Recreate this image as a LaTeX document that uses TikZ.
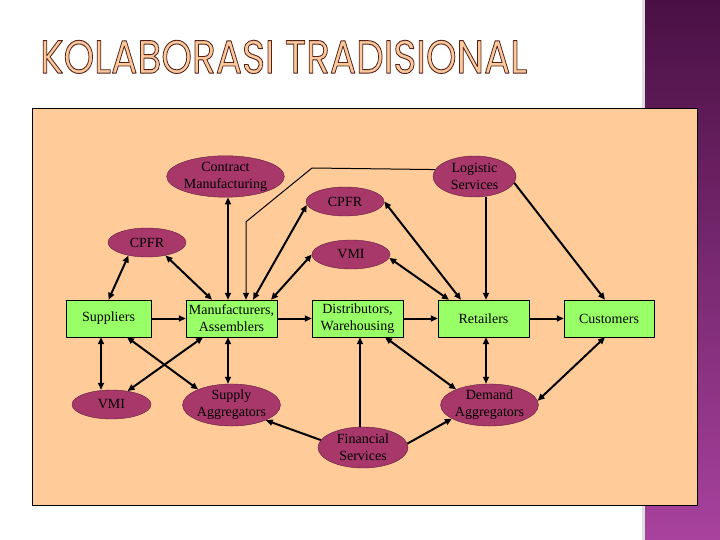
\documentclass[tikz,border=0pt]{standalone}
\usepackage{fontspec}
\setmainfont{Liberation Serif}
\newfontfamily\titlefont{Poppins}
\usetikzlibrary{arrows.meta,shapes.geometric}

\definecolor{panelpeach}{RGB}{255,204,153}
\definecolor{ovalred}{RGB}{168,56,106}
\definecolor{boxgreen}{RGB}{153,255,102}
\definecolor{titlefill}{RGB}{251,200,156}
\definecolor{stripdark}{RGB}{74,16,68}
\definecolor{striplight}{RGB}{168,66,158}

\begin{document}
\begin{tikzpicture}[x=1pt,y=-1pt,line join=round,>={Triangle[length=7pt,width=6pt]}]
\tikzset{every node/.style={font=\fontsize{14}{17}\selectfont,align=center,inner sep=0pt},
  oval/.style={ellipse,draw=ovalred!55!black,fill=ovalred,minimum width=91pt,minimum height=42pt},
  smalloval/.style={oval,minimum width=78pt,minimum height=29pt},
  stage/.style={rectangle,draw=black,fill=boxgreen,minimum width=91pt,minimum height=37pt},
  link/.style={line width=2pt}}
% slide background
\fill[white] (0,0) rectangle (720,540);
\shade[top color=stripdark,bottom color=striplight] (645,0) rectangle (720,540);
\fill[gray!25] (642,0) rectangle (645,540);
\draw[fill=panelpeach] (32,108) rectangle (697,505);
\node[anchor=north west] (title) at (40,40) {\resizebox{487pt}{33pt}{\titlefont\fontsize{46}{50}\selectfont{\color{titlefill}\special{pdf:literal direct 2 Tr 0.9 w 0.33 0.13 0.1 RG}KOLABORASI TRADISIONAL\special{pdf:literal direct 0 Tr}}}};
% ovals and stages
\node[oval,minimum width=103pt,minimum height=41pt] (contract) at (225.5,176.5) {Contract\\Manufacturing};
\node[oval,minimum width=83pt,minimum height=41pt] (logistic) at (474.5,176.5) {Logistic\\Services};
\node[smalloval] (cpfrup) at (345,201.5) {CPFR};
\node[smalloval] (vmimid) at (351,254.5) {VMI};
\node[smalloval] (cpfrleft) at (147,242.5) {CPFR};
\node[stage,minimum width=85pt] (supp) at (108.5,318.5) {Suppliers};
\node[stage] (manuf) at (231.5,318.5) {Manufacturers,\\Assemblers};
\node[stage] (dist) at (357.5,318.5) {Distributors,\\Warehousing};
\node[stage] (retail) at (483.5,318.5) {Retailers};
\node[stage,minimum width=90pt] (cust) at (609,318.5) {Customers};
\node[smalloval,minimum width=79pt] (vmilow) at (111.5,404.5) {VMI};
\node[oval] (supagg) at (231.5,405) {Supply\\Aggregators};
\node[oval] (demagg) at (489.5,405) {Demand\\Aggregators};
\node[oval,minimum width=90pt,minimum height=41pt] (fin) at (363,447.5) {Financial\\Services};
% chain
\draw[link,->] (supp) -- (manuf);
\draw[link,->] (manuf) -- (dist);
\draw[link,->] (dist) -- (retail);
\draw[link,->] (retail) -- (cust);
% upper links
\draw[link,<->] (supp.north) -- (cpfrleft.215);
\draw[link,<->] ([xshift=-19.5pt]manuf.north) -- (cpfrleft.325);
\draw[link,<->] ([xshift=-3.5pt]manuf.north) -- ([xshift=-3.5pt]manuf.north |- contract.south);
\draw[link,<->] ([xshift=21.5pt]manuf.north) -- (cpfrup.185);
\draw[link,<->] ([xshift=39.5pt]manuf.north) -- (vmimid.180);
\draw[link,<->] ([xshift=-22.5pt]retail.north) -- (cpfrup.0);
\draw[link,<->] ([xshift=-34.5pt]retail.north) -- (vmimid.355);
\draw[link,->] ([xshift=11.5pt]logistic.south) -- ([xshift=2.5pt]retail.north);
\draw[link,->] (logistic.351) -- ([xshift=-4pt]cust.north);
\draw[<-,line width=1pt] ([xshift=14.5pt]manuf.north) -- ++(0,-78) -- (312,168) -- (logistic.170);
% lower links
\draw[link,<->] ([xshift=-7.5pt]supp.south) -- ([xshift=-10.5pt]vmilow.north);
\draw[link,<->] ([xshift=18.5pt]supp.south) -- (supagg.155);
\draw[link,<->] ([xshift=-28.5pt]manuf.south) -- (vmilow.40);
\draw[link,<->] ([xshift=-3.5pt]manuf.south) -- ([xshift=-3.5pt]supagg.north);
\draw[link,->] ([xshift=-3pt]fin.north) -- ([xshift=2.5pt]dist.south);
\draw[link,<->] ([xshift=27.5pt]dist.south) -- (demagg.155);
\draw[link,<->] ([xshift=2.5pt]retail.south) -- ([xshift=-3.5pt]demagg.north);
\draw[link,<->] ([xshift=-4pt]cust.south) -- (demagg.5);
\draw[link,->] (fin.5) -- (demagg.200);
\draw[link,->] (fin.170) -- (supagg.336);
\end{tikzpicture}
\end{document}
